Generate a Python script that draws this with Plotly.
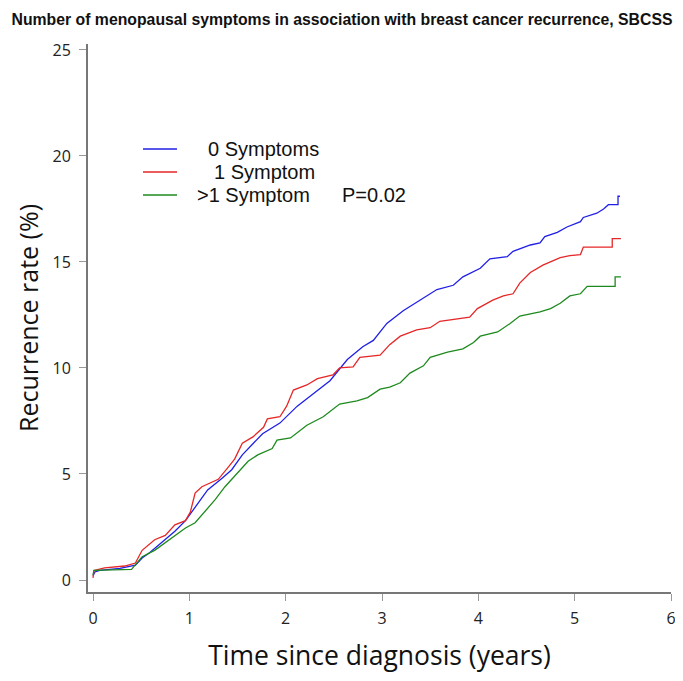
import plotly.graph_objects as go

# ---- data (years since diagnosis, cumulative recurrence %) ----
t_none = [0.0, 0.02, 0.07, 0.28, 0.44, 0.51, 0.59, 0.75, 0.85, 0.96, 1.06, 1.19, 1.34, 1.44,
          1.55, 1.68, 1.76, 1.94, 2.12, 2.29, 2.46, 2.64, 2.80, 2.91, 3.05, 3.22, 3.40, 3.57,
          3.74, 3.84, 4.02, 4.12, 4.30, 4.36, 4.54, 4.64, 4.69, 4.82, 4.92, 5.06, 5.09, 5.23,
          5.30, 5.35, 5.45, 5.45, 5.47]
r_none = [0.2, 0.38, 0.45, 0.55, 0.7, 1.04, 1.3, 1.9, 2.3, 2.8, 3.45, 4.25, 4.8, 5.2,
          5.9, 6.5, 6.9, 7.4, 8.2, 8.8, 9.4, 10.4, 11.0, 11.3, 12.1, 12.7, 13.2, 13.7,
          13.9, 14.3, 14.7, 15.15, 15.25, 15.5, 15.8, 15.9, 16.2, 16.4, 16.65, 16.9, 17.1, 17.3,
          17.5, 17.7, 17.7, 18.1, 18.1]

t_one = [0.0, 0.01, 0.12, 0.33, 0.44, 0.51, 0.64, 0.75, 0.85, 0.96, 1.01, 1.06, 1.13, 1.30,
         1.40, 1.47, 1.55, 1.66, 1.77, 1.81, 1.94, 2.01, 2.08, 2.22, 2.33, 2.49, 2.56, 2.70,
         2.77, 2.98, 3.08, 3.19, 3.36, 3.50, 3.60, 3.78, 3.91, 3.99, 4.15, 4.26, 4.36, 4.43,
         4.54, 4.67, 4.75, 4.85, 4.95, 5.06, 5.09, 5.39, 5.39, 5.48]
r_one = [0.1, 0.45, 0.57, 0.66, 0.8, 1.4, 1.9, 2.1, 2.6, 2.8, 3.2, 4.1, 4.4, 4.75,
         5.3, 5.7, 6.45, 6.75, 7.2, 7.6, 7.7, 8.2, 8.96, 9.2, 9.5, 9.67, 10.0, 10.05,
         10.5, 10.6, 11.1, 11.5, 11.8, 11.9, 12.2, 12.3, 12.4, 12.8, 13.2, 13.4, 13.5, 14.0,
         14.5, 14.85, 15.0, 15.2, 15.3, 15.35, 15.7, 15.7, 16.1, 16.1]

t_multi = [0.0, 0.01, 0.40, 0.46, 0.51, 0.64, 0.75, 0.82, 0.96, 1.06, 1.16, 1.27, 1.37, 1.48,
           1.61, 1.71, 1.86, 1.91, 2.05, 2.22, 2.39, 2.56, 2.74, 2.85, 2.98, 3.08, 3.19, 3.29,
           3.43, 3.50, 3.68, 3.84, 3.95, 4.02, 4.20, 4.33, 4.43, 4.64, 4.75, 4.85, 4.95, 5.06,
           5.13, 5.42, 5.42, 5.48]
r_multi = [0.24, 0.45, 0.5, 0.8, 1.1, 1.4, 1.75, 2.0, 2.45, 2.7, 3.2, 3.8, 4.4, 4.95,
           5.6, 5.9, 6.2, 6.6, 6.7, 7.3, 7.7, 8.3, 8.45, 8.6, 9.0, 9.1, 9.3, 9.76,
           10.1, 10.5, 10.75, 10.9, 11.2, 11.5, 11.7, 12.1, 12.45, 12.65, 12.8, 13.05, 13.4, 13.5,
           13.85, 13.85, 14.3, 14.3]

series_names = ["0 Symptoms", "1 Symptom", ">1 Symptom"]
series_colors = ["#1f1fe6", "#e52727", "#1e8a1e"]
x_ticks = [0, 1, 2, 3, 4, 5, 6]
y_ticks = [0, 5, 10, 15, 20, 25]
p_value_text = "P=0.02"

# the page body adds an 8px margin; size the figure so the page does not overflow
OFF = 8
W, H = 683 - OFF, 681 - 2 * OFF
L, R, T = 88 - OFF, 12, 44 - OFF
B = (H + OFF) - 592
pw, ph = W - L - R, H - T - B

fig = go.Figure()
for tx, ry, nm, col in zip([t_none, t_one, t_multi], [r_none, r_one, r_multi],
                           series_names, series_colors):
    fig.add_trace(go.Scatter(x=tx, y=ry, mode="lines", name=nm,
                             line=dict(color=col, width=1.3), showlegend=False))

# manual legend (reference pixel positions converted to paper coordinates)
def px2x(px):
    return (px - OFF - L) / pw

def py2y(py):
    return (592 - py) / ph

legend_rows = [149, 172, 195]
legend_text_x = [206, 212, 195]
leg_font = dict(family="Liberation Sans, Arial", size=20, color="#111")
for nm, col, ry, tx in zip(series_names, series_colors, legend_rows, legend_text_x):
    fig.add_shape(type="line", xref="paper", yref="paper",
                  x0=px2x(143), x1=px2x(177), y0=py2y(ry), y1=py2y(ry),
                  line=dict(color=col, width=1.3))
    fig.add_annotation(xref="paper", yref="paper", x=px2x(tx), y=py2y(ry),
                       xanchor="left", yanchor="middle", showarrow=False, text=nm,
                       font=leg_font)
fig.add_annotation(xref="paper", yref="paper", x=px2x(340), y=py2y(legend_rows[2]),
                   xanchor="left", yanchor="middle", showarrow=False, text=p_value_text,
                   font=leg_font)

fig.update_layout(
    width=W, height=H,
    margin=dict(l=L, r=R, t=T, b=B, autoexpand=False),
    paper_bgcolor="white", plot_bgcolor="white",
    title=dict(text="<b>Number of menopausal symptoms in association with breast cancer recurrence, SBCSS</b>",
               x=(342 - OFF) / W, xref="container", xanchor="center",
               y=1 - (19 - OFF) / H, yref="container", yanchor="middle",
               font=dict(family="Liberation Sans, Arial", size=15.8, color="#111")),
)
fig.update_xaxes(range=[-0.052, 6.0], tickvals=x_ticks, ticks="outside", ticklen=7,
                 tickcolor="#999", tickwidth=1, showline=True, linecolor="#777", linewidth=2,
                 showgrid=False, zeroline=False, ticklabelstandoff=4, automargin=False,
                 tickfont=dict(family="Open Sans", size=16, color="#222"),
                 title=dict(text="Time since diagnosis (years)", standoff=27,
                            font=dict(family="Open Sans", size=26.5, color="#111")))
fig.update_yaxes(range=[-0.566, 25.28], tickvals=y_ticks, ticks="outside", ticklen=7,
                 tickcolor="#999", tickwidth=1, showline=True, linecolor="#777", linewidth=2,
                 showgrid=False, zeroline=False, ticklabelstandoff=5, automargin=False,
                 tickfont=dict(family="Open Sans", size=16, color="#222"),
                 title=dict(text="Recurrence rate (%)", standoff=7,
                            font=dict(family="Open Sans", size=25, color="#111")))

fig.write_html("out.html")
